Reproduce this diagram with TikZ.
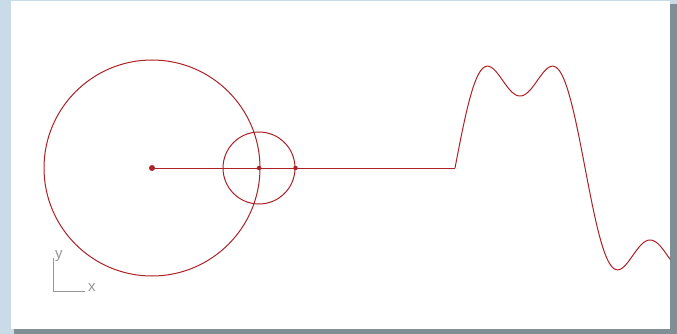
\documentclass[tikz,border=0pt]{standalone}
\usepackage{fontspec}
\setsansfont{Liberation Sans}
\usetikzlibrary{positioning, calc}
\definecolor{armred}{RGB}{172,34,38}
\definecolor{axisgray}{RGB}{150,150,150}
\definecolor{backblue}{RGB}{200,219,230}
\definecolor{shadowgray}{RGB}{128,142,150}
\begin{document}
\begin{tikzpicture}[
    x=1pt, y=-1pt,
    orbit/.style={circle, draw=armred, line width=1pt, inner sep=0pt},
    joint/.style={circle, fill=armred, inner sep=0pt, minimum size=4.5pt},
    hub/.style={circle, fill=armred, inner sep=0pt, minimum size=6pt},
    rod/.style={draw=armred, line width=1pt},
    axis/.style={draw=axisgray, line width=1pt},
    axislabel/.style={text=axisgray, font=\sffamily\fontsize{15}{15}\selectfont, inner sep=0pt}
]
\useasboundingbox (0,0) rectangle (677,334);

% Background and panel
\fill[backblue] (0,0) rectangle (677,334);
\fill[shadowgray] (14,329) rectangle (677,334);
\fill[shadowgray] (670,4) rectangle (677,334);
\fill[white] (11,1) coordinate (PanelTL) rectangle (670,329) coordinate (PanelBR);

% Circles
\node[orbit, minimum size=216pt] (BigOrbit) at (152,168) {};
\node[orbit, minimum size=72pt] (SmallOrbit) at (259,168) {};

% Joints
\node[hub] (Hub) at (BigOrbit.center) {};
\node[joint] (Elbow) at (SmallOrbit.center) {};
\node[joint] (Tip) at (SmallOrbit.east) {};
\coordinate (WaveStart) at (455,168);

% Arm
\draw[rod] (Hub.center) -- (WaveStart);

% Wave
\begin{scope}
\clip (PanelTL) rectangle (PanelBR);
\draw[rod] plot[domain=0:5.3, samples=240, smooth]
    ({455+41.4*\x}, {168-108*(sin(\x r)+sin(3*\x r)/3)});
\end{scope}

% Axes
\coordinate (Origin) at (53,291);
\coordinate (YEnd) at (53,258);
\coordinate (XEnd) at (85,291);
\draw[axis] (YEnd) -- (Origin) -- (XEnd);
\node[axislabel, anchor=south west] (YLabel) at ($(YEnd)+(2,4)$) {y};
\node[axislabel, anchor=west] (XLabel) at ($(XEnd)+(3,-3)$) {x};

\end{tikzpicture}
\end{document}
